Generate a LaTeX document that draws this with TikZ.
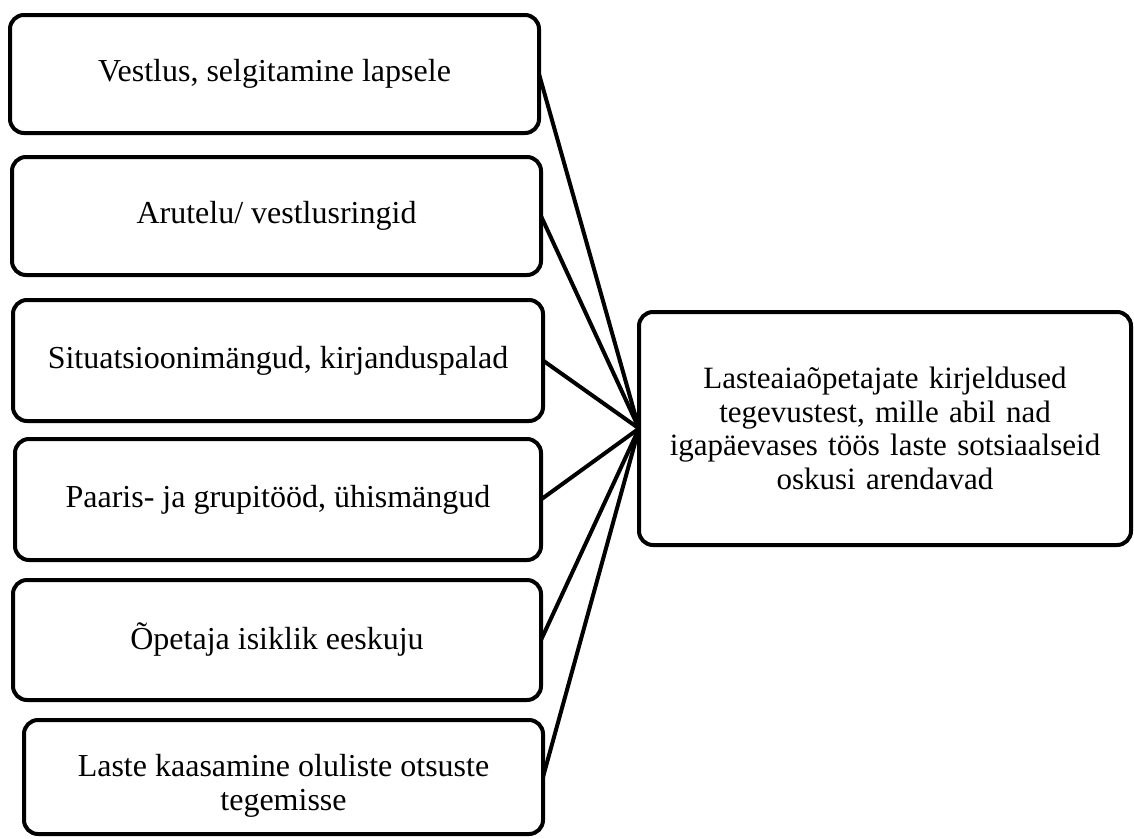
\documentclass[tikz,border=0pt]{standalone}
\usepackage{fontspec}
\setmainfont{Liberation Serif}
\begin{document}
\begin{tikzpicture}[x=1pt,y=-1pt,
  box/.style={draw, line width=4pt, rounded corners=14pt, rectangle, inner sep=0pt, outer sep=0pt,
    font=\fontsize{32}{33.5}\selectfont, align=center},
  link/.style={line width=4pt}]
\useasboundingbox (0,0) rectangle (1134,838);
\node[box, minimum width=529pt, minimum height=118pt] (b1) at (274.5,74) {Vestlus, selgitamine lapsele};
\node[box, minimum width=529pt, minimum height=118pt] (b2) at (276.5,216) {Arutelu/ vestlusringid};
\node[box, minimum width=530pt, minimum height=121pt] (b3) at (278,360.5) {Situatsioonimängud, kirjanduspalad};
\node[box, minimum width=526pt, minimum height=121pt] (b4) at (278,499.5) {Paaris- ja grupitööd, ühismängud};
\node[box, minimum width=528pt, minimum height=120pt] (b5) at (277,640) {Õpetaja isiklik eeskuju};
\node[box, minimum width=519pt, minimum height=114pt] (b6) at (283.5,777) {};
\node[font=\fontsize{32}{33.5}\selectfont, align=center, inner sep=0pt] (t6) at (283.5,786) {Laste kaasamine oluliste otsuste\\tegemisse};
\node[box, font=\fontsize{31}{33.5}\selectfont, minimum width=492pt, minimum height=233pt, text width=470pt] (big) at (885,428.5)
  {Lasteaiaõpetajate kirjeldused\\tegevustest, mille abil nad\\igapäevases töös laste sotsiaalseid\\oskusi arendavad};
\foreach \b in {b1,b2,b3,b4,b5,b6}
  \draw[link] (\b.east) -- (big.west);
\end{tikzpicture}
\end{document}
